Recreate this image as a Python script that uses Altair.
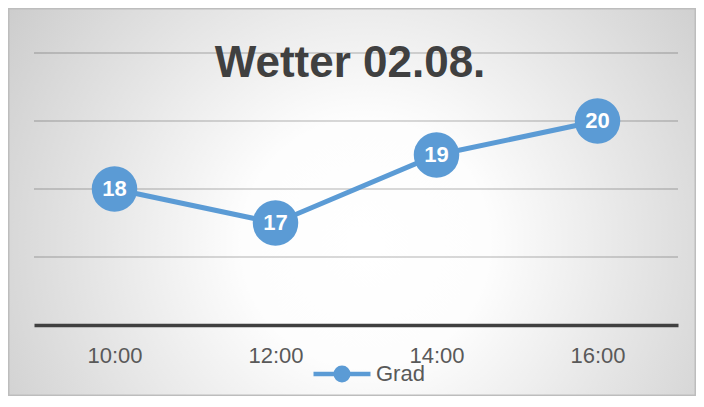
import altair as alt
import pandas as pd

# ---- data ----
times = ["10:00", "12:00", "14:00", "16:00"]
grad = [18, 17, 19, 20]
series = ["Grad", "Grad", "Grad", "Grad"]
title_text = "Wetter 02.08."
grid_values = [16, 18, 20, 22]

df = pd.DataFrame({"Zeit": times, "Grad": grad, "Serie": series})
grid_df = pd.DataFrame({"Grad": grid_values})
bg = pd.DataFrame({"k": [0]})
tt = pd.DataFrame({"t": [title_text]})

# ---- layout ----
W, H = 644, 272
PL, PT, PR, PB = 26, 45, 18, 71
BLUE = "#5B9BD5"
FONT = "Liberation Sans"

y_scale = alt.Scale(domain=[14, 22], nice=False, zero=False)

x_enc = alt.X(
    "Zeit:N",
    sort=times,
    scale=alt.Scale(type="point", padding=0.5),
    axis=alt.Axis(
        title=None, labelAngle=0, ticks=False, tickSize=0,
        domainColor="#404040", domainWidth=3.5,
        labelFontSize=22, labelFont=FONT, labelColor="#595959",
        labelPadding=20, grid=False, zindex=1,
    ),
)
y_enc = alt.Y("Grad:Q", scale=y_scale, axis=None)

background = alt.Chart(bg).mark_rect(
    color=alt.RadialGradient(
        gradient="radial",
        stops=[
            alt.GradientStop(offset=0, color="#ffffff"),
            alt.GradientStop(offset=0.25, color="#fdfdfd"),
            alt.GradientStop(offset=1, color="#c2c2c2"),
        ],
        x1=0.52, y1=0.56, r1=0, x2=0.52, y2=0.56, r2=0.72,
    ),
    stroke="#bdbdbd",
    strokeWidth=1.5,
).encode(
    x=alt.value(-PL + 0.75),
    x2=alt.value(W + PR - 0.75),
    y=alt.value(-PT + 0.75),
    y2=alt.value(H + PB - 0.75),
)

grid = alt.Chart(grid_df).mark_rule(color="#000000", opacity=0.2, strokeWidth=1.5).encode(
    y=y_enc
)

legend_path = "M-1,0L1,0M0.22,0A0.22,0.22,0,1,1,-0.22,0A0.22,0.22,0,1,1,0.22,0Z"

line = alt.Chart(df).mark_line(strokeWidth=5).encode(
    x=x_enc,
    y=y_enc,
    color=alt.Color(
        "Serie:N",
        scale=alt.Scale(domain=["Grad"], range=[BLUE]),
        legend=alt.Legend(
            orient="none", legendX=277, legendY=290, title=None, padding=0,
            symbolType=legend_path, symbolSize=3249, symbolStrokeWidth=4.5,
            symbolFillColor=BLUE, symbolStrokeColor=BLUE,
            labelFontSize=22, labelFont=FONT, labelColor="#595959", labelOffset=3,
        ),
    ),
)

points = alt.Chart(df).mark_point(filled=True, size=2070, opacity=1, color=BLUE).encode(
    x=alt.X("Zeit:N", sort=times), y=y_enc
)

labels = alt.Chart(df).mark_text(
    color="white", fontSize=22, fontWeight="bold", font=FONT,
    align="center", baseline="middle",
).encode(x=alt.X("Zeit:N", sort=times), y=y_enc, text="Grad:Q")

title = alt.Chart(tt).mark_text(
    fontSize=44, fontWeight="bold", font=FONT, color="#404040",
    align="center", baseline="alphabetic",
).encode(x=alt.value(316), y=alt.value(24), text="t:N")

chart = alt.layer(background, grid, line, points, labels, title).properties(
    width=W, height=H,
    autosize=alt.AutoSizeParams(type="none"),
    padding={"left": PL, "top": PT, "right": PR, "bottom": PB},
).configure_view(stroke=None)

chart.save("out.html", embed_options={"renderer": "svg", "actions": False})
